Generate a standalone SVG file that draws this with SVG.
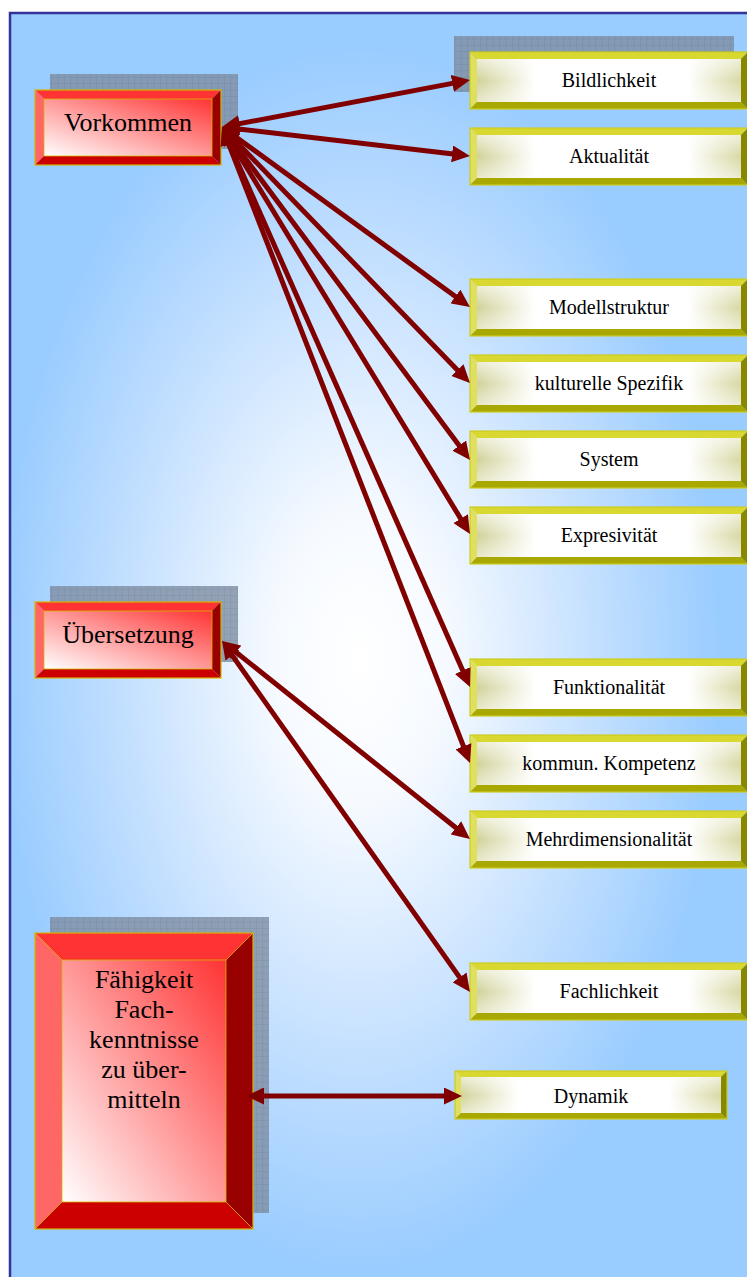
<svg xmlns="http://www.w3.org/2000/svg" xmlns:xlink="http://www.w3.org/1999/xlink" width="747" height="1277" viewBox="0 0 747 1277">
<defs>
<style>
.yt{font-family:"Liberation Serif","Times New Roman",serif;font-size:20px;fill:#000;text-anchor:middle}
.rt{font-family:"Liberation Serif","Times New Roman",serif;font-size:26px;fill:#000;text-anchor:middle}
.con{stroke:#800000;stroke-width:5;fill:none;marker-start:url(#ah);marker-end:url(#ah)}
.shadow{fill:url(#grid);opacity:0.8}
.yTop{fill:#d8d830}.yLeft{fill:#e0e060}.yBot{fill:#a8a800}.yRight{fill:#888800}
.rTop{fill:#ff3333}.rLeft{fill:#ff6666}.rBot{fill:#cc0000}.rRight{fill:#990000}
.yOut{fill:none;stroke:#cccc22;stroke-width:1.2}
.rOut{fill:none;stroke:#d4b400;stroke-width:1.2}
.diag{stroke:#d4b400;stroke-width:0.8}
</style>
<radialGradient id="bg" cx="0.46" cy="0.5" r="0.56">
<stop offset="0" stop-color="#ffffff"/>
<stop offset="0.2" stop-color="#f6faff"/>
<stop offset="0.55" stop-color="#c4e0ff"/>
<stop offset="0.85" stop-color="#99ccff"/>
<stop offset="1" stop-color="#99ccff"/>
</radialGradient>
<linearGradient id="yInH" x1="0" y1="0" x2="1" y2="0">
<stop offset="0" stop-color="#d2d29a"/>
<stop offset="0.22" stop-color="#ffffff"/>
<stop offset="0.8" stop-color="#ffffff"/>
<stop offset="1" stop-color="#d8d8a4"/>
</linearGradient>
<linearGradient id="yInV" x1="0" y1="0" x2="0" y2="1">
<stop offset="0" stop-color="#ffffff" stop-opacity="0.6"/>
<stop offset="0.5" stop-color="#ffffff" stop-opacity="0"/>
<stop offset="1" stop-color="#ffffff" stop-opacity="0.5"/>
</linearGradient>
<linearGradient id="rIn" x1="0" y1="1" x2="1" y2="0">
<stop offset="0" stop-color="#ffffff"/>
<stop offset="1" stop-color="#ff3333"/>
</linearGradient>
<pattern id="grid" width="6.4" height="6.4" patternUnits="userSpaceOnUse">
<rect width="6.4" height="6.4" fill="#7f8ea3"/>
<path d="M0,0 H6.4 M0,0 V6.4" stroke="#687689" stroke-width="0.8"/>
</pattern>
<marker id="ah" markerUnits="userSpaceOnUse" markerWidth="18" markerHeight="17" viewBox="0 0 18 17" refX="12" refY="8.5" orient="auto-start-reverse">
<path d="M0,0 L18,8.5 L0,17 z" fill="#800000"/>
</marker>
<g id="ybox">
<rect x="7" y="7" width="264" height="43" fill="url(#yInH)"/>
<rect x="7" y="7" width="264" height="43" fill="url(#yInV)"/>
<polygon class="yTop" points="0,0 278,0 271,7 7,7"/>
<polygon class="yLeft" points="0,0 7,7 7,50 0,57"/>
<polygon class="yBot" points="0,57 7,50 271,50 278,57"/>
<polygon class="yRight" points="278,0 278,57 271,50 271,7"/>
<rect class="yOut" x="0" y="0" width="278" height="57"/>
</g>
</defs>

<rect x="0" y="0" width="747" height="1277" fill="#ffffff"/>
<rect x="10" y="13" width="760" height="1290" fill="url(#bg)" stroke="#333399" stroke-width="2.5"/>

<g id="node-vorkommen">
<rect class="shadow" x="50" y="74" width="188" height="75"/>
<rect x="44" y="99" width="168" height="57" fill="url(#rIn)"/>
<polygon class="rTop" points="35,90 221,90 212,99 44,99"/>
<polygon class="rLeft" points="35,90 44,99 44,156 35,165"/>
<polygon class="rBot" points="35,165 44,156 212,156 221,165"/>
<polygon class="rRight" points="221,90 221,165 212,156 212,99"/>
<rect class="rOut" x="35" y="90" width="186" height="75"/>
<rect x="44" y="99" width="168" height="57" fill="none" stroke="#d4b400" stroke-width="0.8"/>
<text class="rt" x="128" y="131">Vorkommen</text>
</g>

<g id="node-uebersetzung">
<rect class="shadow" x="50" y="586" width="188" height="76"/>
<rect x="44" y="611" width="168" height="58" fill="url(#rIn)"/>
<polygon class="rTop" points="35,602 221,602 212,611 44,611"/>
<polygon class="rLeft" points="35,602 44,611 44,669 35,678"/>
<polygon class="rBot" points="35,678 44,669 212,669 221,678"/>
<polygon class="rRight" points="221,602 221,678 212,669 212,611"/>
<rect class="rOut" x="35" y="602" width="186" height="76"/>
<rect x="44" y="611" width="168" height="58" fill="none" stroke="#d4b400" stroke-width="0.8"/>
<text class="rt" x="128" y="643">Übersetzung</text>
</g>

<g id="node-faehigkeit">
<rect class="shadow" x="50" y="917" width="219" height="296"/>
<rect x="62" y="960" width="164" height="242" fill="url(#rIn)"/>
<polygon class="rTop" points="35,933 253,933 226,960 62,960"/>
<polygon class="rLeft" points="35,933 62,960 62,1202 35,1229"/>
<polygon class="rBot" points="35,1229 62,1202 226,1202 253,1229"/>
<polygon class="rRight" points="253,933 253,1229 226,1202 226,960"/>
<rect class="rOut" x="35" y="933" width="218" height="296"/>
<rect x="62" y="960" width="164" height="242" fill="none" stroke="#d4b400" stroke-width="0.8"/>
<line class="diag" x1="35" y1="933" x2="62" y2="960"/>
<line class="diag" x1="253" y1="933" x2="226" y2="960"/>
<line class="diag" x1="35" y1="1229" x2="62" y2="1202"/>
<line class="diag" x1="253" y1="1229" x2="226" y2="1202"/>
<text class="rt" x="144" y="988">Fähigkeit</text>
<text class="rt" x="144" y="1018">Fach-</text>
<text class="rt" x="144" y="1048">kenntnisse</text>
<text class="rt" x="144" y="1078">zu über-</text>
<text class="rt" x="144" y="1108">mitteln</text>
</g>

<g id="node-bildlichkeit">
<rect class="shadow" x="454" y="36" width="280" height="56"/>
<use xlink:href="#ybox" x="470" y="52"/>
<text class="yt" x="609" y="87">Bildlichkeit</text>
</g>
<g id="node-aktualitaet">
<use xlink:href="#ybox" x="470" y="128"/>
<text class="yt" x="609" y="163">Aktualität</text>
</g>
<g id="node-modellstruktur">
<use xlink:href="#ybox" x="470" y="279"/>
<text class="yt" x="609" y="314">Modellstruktur</text>
</g>
<g id="node-kulturelle">
<use xlink:href="#ybox" x="470" y="355"/>
<text class="yt" x="609" y="390">kulturelle Spezifik</text>
</g>
<g id="node-system">
<use xlink:href="#ybox" x="470" y="431"/>
<text class="yt" x="609" y="466">System</text>
</g>
<g id="node-expresivitaet">
<use xlink:href="#ybox" x="470" y="507"/>
<text class="yt" x="609" y="542">Expresivität</text>
</g>
<g id="node-funktionalitaet">
<use xlink:href="#ybox" x="470" y="659"/>
<text class="yt" x="609" y="694">Funktionalität</text>
</g>
<g id="node-kompetenz">
<use xlink:href="#ybox" x="470" y="735"/>
<text class="yt" x="609" y="770">kommun. Kompetenz</text>
</g>
<g id="node-mehrdim">
<use xlink:href="#ybox" x="470" y="811"/>
<text class="yt" x="609" y="846">Mehrdimensionalität</text>
</g>
<g id="node-fachlichkeit">
<use xlink:href="#ybox" x="470" y="963"/>
<text class="yt" x="609" y="998">Fachlichkeit</text>
</g>
<g id="node-dynamik">
<rect x="461" y="1077" width="260" height="36" fill="url(#yInH)"/>
<rect x="461" y="1077" width="260" height="36" fill="url(#yInV)"/>
<polygon class="yTop" points="455,1071 727,1071 721,1077 461,1077"/>
<polygon class="yLeft" points="455,1071 461,1077 461,1113 455,1119"/>
<polygon class="yBot" points="455,1119 461,1113 721,1113 727,1119"/>
<polygon class="yRight" points="727,1071 727,1119 721,1113 721,1077"/>
<rect class="yOut" x="455" y="1071" width="272" height="48"/>
<text class="yt" x="591" y="1103">Dynamik</text>
</g>

<g id="connectors">
<line class="con" x1="227.9" y1="125.9" x2="464.1" y2="81.1"/>
<line class="con" x1="228.0" y1="127.7" x2="464.0" y2="155.3"/>
<line class="con" x1="226.9" y1="130.5" x2="465.1" y2="303.5"/>
<line class="con" x1="226.2" y1="131.3" x2="465.8" y2="378.7"/>
<line class="con" x1="225.6" y1="131.8" x2="466.4" y2="455.2"/>
<line class="con" x1="225.1" y1="132.1" x2="466.9" y2="528.9"/>
<line class="con" x1="224.4" y1="132.5" x2="467.6" y2="681.5"/>
<line class="con" x1="224.2" y1="132.6" x2="467.8" y2="757.4"/>
<line class="con" x1="226.7" y1="644.7" x2="465.3" y2="835.3"/>
<line class="con" x1="225.5" y1="645.9" x2="466.5" y2="987.1"/>
<line class="con" x1="252" y1="1096" x2="456" y2="1096"/>
</g>
</svg>
